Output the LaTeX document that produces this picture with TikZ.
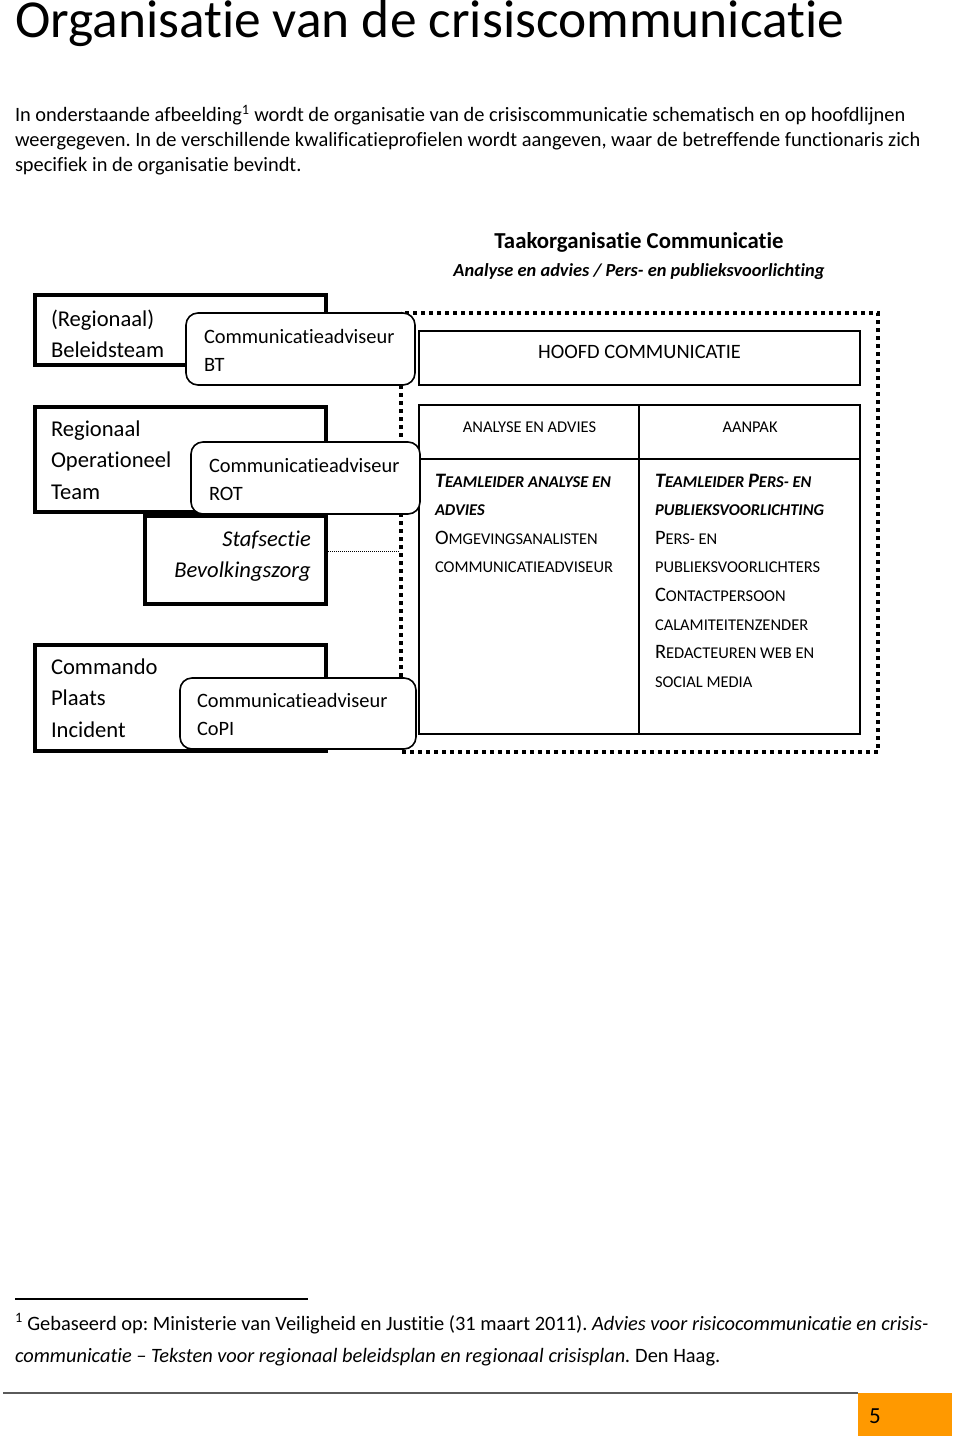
\documentclass[tikz,border=0pt]{standalone}
\usepackage{fontspec}
\setmainfont{Carlito}[Ligatures=NoCommon]
\frenchspacing
\newcommand\vlines[1]{\vtop{\halign{##\hfil\cr#1\crcr}}}
\newcommand\rlines[1]{\vtop{\halign{\hfil##\cr#1\crcr}}}
\newcommand\scw[2]{{\fontsize{20.5}{20}\selectfont #1}{\fontsize{16.45}{16}\selectfont #2}}
\newcommand\scs[1]{{\fontsize{16.45}{16}\selectfont #1}}
\definecolor{pageorange}{RGB}{255,153,0}
\definecolor{rulegray}{RGB}{90,90,90}
\begin{document}
\frenchspacing
\begin{tikzpicture}[x=1pt,y=-1pt,
  txt/.style={inner sep=0pt, outer sep=0pt, anchor=base west},
  thickbox/.style={draw, line width=4pt, fill=white},
  advbox/.style={draw, line width=1.6pt, rounded corners=12pt, fill=white},
  plainbox/.style={draw, line width=1.8pt},
  frame/.style={draw, line width=4pt, dash pattern=on 4pt off 4pt},
  teamfont/.style={font=\fontsize{22.6}{31.5}\selectfont},
  advfont/.style={font=\fontsize{20.4}{28}\selectfont},
  tabfont/.style={font=\fontsize{16.45}{28.6}\selectfont}]
\useasboundingbox (0,0) rectangle (960,1442);
\fill[white] (0,0) rectangle (960,1442);

% title and introduction
\node[txt, font=\fontsize{53.4}{60}\selectfont] (title) at (15,38) {Organisatie van de crisiscommunicatie};
\node[txt, font=\fontsize{20.4}{25}\selectfont] (intro) at (15,122) {\vlines{In onderstaande afbeelding\textsuperscript{1} wordt de organisatie van de crisiscommunicatie schematisch en op hoofdlijnen\cr
weergegeven. In de verschillende kwalificatieprofielen wordt aangeven, waar de betreffende functionaris zich\cr
specifiek in de organisatie bevindt.}};

% heading of the task organisation
\node[inner sep=0pt, anchor=base, font=\fontsize{22.8}{26}\selectfont\bfseries] (taak) at (639,248) {Taakorganisatie Communicatie};
\node[inner sep=0pt, anchor=base, font=\fontsize{18.4}{22}\selectfont\bfseries\itshape] (taaksub) at (639,276) {Analyse en advies / Pers- en publieksvoorlichting};

% dotted frame
\draw[frame] (401,313) rectangle (878,752);

% HOOFD COMMUNICATIE and table
\draw[plainbox] (419,331) rectangle (860,385);
\node[inner sep=0pt, anchor=base, font=\fontsize{20.4}{24}\selectfont] (hoofd) at (639.5,358) {HOOFD COMMUNICATIE};
\draw[plainbox] (419,405) rectangle (860,734);
\draw[plainbox] (639,405) -- (639,734);
\draw[plainbox] (419,459) -- (860,459);
\node[inner sep=0pt, anchor=base, font=\fontsize{16.45}{20}\selectfont] (colA) at (529.5,432) {ANALYSE EN ADVIES};
\node[inner sep=0pt, anchor=base, font=\fontsize{16.45}{20}\selectfont] (colB) at (750,432) {AANPAK};
\node[txt, tabfont] (listA) at (435,487) {\vlines{{\bfseries\itshape\scw{T}{EAMLEIDER ANALYSE EN}}\cr
{\bfseries\itshape\scs{ADVIES}}\cr
\scw{O}{MGEVINGSANALISTEN}\cr
\scs{COMMUNICATIEADVISEUR}}};
\node[txt, tabfont] (listB) at (655,487) {\vlines{{\bfseries\itshape\scw{T}{EAMLEIDER }\scw{P}{ERS- EN}}\cr
{\bfseries\itshape\scs{PUBLIEKSVOORLICHTING}}\cr
\scw{P}{ERS- EN}\cr
\scs{PUBLIEKSVOORLICHTERS}\cr
\scw{C}{ONTACTPERSOON}\cr
\scs{CALAMITEITENZENDER}\cr
\scw{R}{EDACTEUREN WEB EN}\cr
\scs{SOCIAL MEDIA}}};

% Beleidsteam
\draw[thickbox] (35,295) rectangle (326,365);
\node[txt, teamfont] (bt) at (51,326) {\vlines{(Regionaal)\cr Beleidsteam}};
\draw[advbox] (186,313) rectangle (415,385);
\node[txt, advfont] (advbt) at (204,343) {\vlines{Communicatieadviseur\cr BT}};

% ROT and Stafsectie
\draw[thickbox] (35,407) rectangle (326,512);
\node[txt, teamfont] (rot) at (51,436) {\vlines{Regionaal\cr Operationeel\cr Team}};
\draw[thickbox] (145,516) rectangle (326,604);
\node[inner sep=0pt, anchor=base east, font=\fontsize{22.6}{31.5}\selectfont\itshape] (staf) at (311,546) {\rlines{Stafsectie\cr Bevolkingszorg}};
\draw[advbox] (191,442) rectangle (420,514);
\node[txt, advfont] (advrot) at (209,472) {\vlines{Communicatieadviseur\cr ROT}};
\coordinate (stafR) at (328,551);
\coordinate (frameL) at (399,551);
\draw[line width=1pt, dash pattern=on 1pt off 1pt] (stafR) -- (frameL);

% CoPI
\draw[thickbox] (35,645) rectangle (326,751);
\node[txt, teamfont] (copi) at (51,674) {\vlines{Commando\cr Plaats\cr Incident}};
\draw[advbox] (180,678) rectangle (416,749);
\node[txt, advfont] (advcopi) at (197,707) {\vlines{Communicatieadviseur\cr CoPI}};

% footnote
\draw[line width=1.2pt] (15,1299) -- (308,1299);
\node[txt, font=\fontsize{20.4}{32}\selectfont] (fn) at (15,1330) {\vlines{\textsuperscript{1} Gebaseerd op: Ministerie van Veiligheid en Justitie (31 maart 2011). \itshape Advies voor risicocommunicatie en crisis-\cr
\itshape communicatie -- Teksten voor regionaal beleidsplan en regionaal crisisplan.\upshape{} Den Haag.}};

% page footer
\draw[rulegray, line width=1.5pt] (3,1393) -- (858,1393);
\fill[pageorange] (858,1393) rectangle (952,1436);
\node[txt, font=\fontsize{23}{26}\selectfont] (page) at (869,1423) {5};
\end{tikzpicture}
\end{document}
